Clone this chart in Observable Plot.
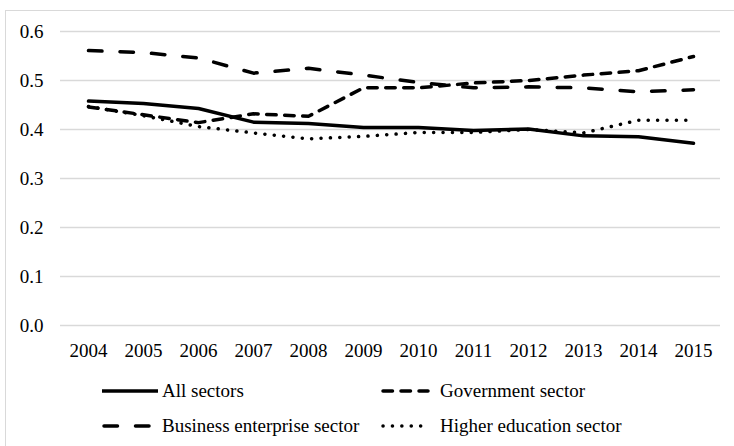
<!DOCTYPE html>
<html>
<head>
<meta charset="utf-8">
<script src="https://cdn.jsdelivr.net/npm/d3@7"></script>
<script src="https://cdn.jsdelivr.net/npm/@observablehq/plot@0.6"></script>
<style>
  html, body { margin: 0; padding: 0; background: #fff; }
  #wrap { position: relative; width: 734px; height: 446px; overflow: hidden; font-size: 19px; }
  #frame { position: absolute; left: 5px; top: 10px; width: 800px; height: 500px; border: 1px solid #d9d9d9; box-sizing: border-box; }
  #chart { position: absolute; left: 0; top: 0; }
  #legend { position: absolute; left: 0; top: 370px; width: 734px; height: 76px; }
  .lgtext { position: absolute; line-height: 19px; white-space: nowrap; font-size: 19px; color: #000; }
</style>
</head>
<body>
<div id="wrap">
  <div id="frame"></div>
  <div id="chart"></div>
  <div id="legend">
    <div class="lgtext" style="left:162px; top:11px; font-family:'Liberation Serif', serif !important">All sectors</div>
    <div class="lgtext" style="left:440px; top:11px; font-family:'Liberation Serif', serif !important">Government sector</div>
    <div class="lgtext" style="left:162px; top:46px; font-family:'Liberation Serif', serif !important">Business enterprise sector</div>
    <div class="lgtext" style="left:440px; top:46px; font-family:'Liberation Serif', serif !important">Higher education sector</div>
  </div>
</div>
<script>
const years = ["2004","2005","2006","2007","2008","2009","2010","2011","2012","2013","2014","2015"];
const allSectors = [0.458, 0.453, 0.443, 0.415, 0.412, 0.404, 0.404, 0.398, 0.401, 0.387, 0.385, 0.372];
const government = [0.446, 0.430, 0.414, 0.432, 0.427, 0.485, 0.485, 0.495, 0.500, 0.511, 0.520, 0.549];
const business   = [0.561, 0.557, 0.546, 0.515, 0.525, 0.511, 0.496, 0.485, 0.487, 0.485, 0.477, 0.481];
const higherEd   = [0.447, 0.428, 0.406, 0.393, 0.381, 0.386, 0.394, 0.394, 0.400, 0.393, 0.419, 0.419];
const yTicks = [0, 0.1, 0.2, 0.3, 0.4, 0.5, 0.6];
const seriesNames = ["All sectors", "Government sector", "Business enterprise sector", "Higher education sector"];

const styles = {
  "All sectors": {dash: null},
  "Government sector": {dash: "9.5,8.5"},
  "Business enterprise sector": {dash: "13.5,18"},
  "Higher education sector": {dash: "0.1,9.3"}
};
const seriesData = {
  "All sectors": allSectors,
  "Government sector": government,
  "Business enterprise sector": business,
  "Higher education sector": higherEd
};
const rows = name => years.map((y, i) => ({year: y, value: seriesData[name][i]}));

const W = 3.5;
const lineMarks = seriesNames.map(name => Plot.line(rows(name), {
  x: "year", y: "value", stroke: "#000", strokeWidth: W,
  strokeDasharray: styles[name].dash || undefined,
  strokeLinecap: "round", strokeLinejoin: "round"
}));

const chart = Plot.plot({
  width: 734,
  height: 368,
  marginTop: 31,
  marginBottom: 43,
  marginLeft: 60,
  marginRight: 14,
  style: {fontSize: "19px", color: "#000", background: "transparent"},
  x: {type: "point", domain: years, padding: 0.5, label: null, tickSize: 0, tickPadding: 18},
  y: {domain: [0, 0.6], ticks: yTicks, tickFormat: d3.format(".1f"), label: null, tickSize: 0, tickPadding: 17},
  marks: [
    Plot.ruleY(yTicks, {stroke: "#d9d9d9", strokeWidth: 1.5}),
    ...lineMarks
  ]
});
chart.style.setProperty("font-family", "'Liberation Serif', serif", "important");
chart.querySelectorAll("text").forEach(t => t.style.setProperty("font-family", "'Liberation Serif', serif", "important"));
document.getElementById("chart").appendChild(chart);

// Legend samples
const legendItems = [
  {name: "All sectors", x: 102, y: 21, len: 56},
  {name: "Government sector", x: 381, y: 21, len: 49},
  {name: "Business enterprise sector", x: 102, y: 56, len: 49},
  {name: "Higher education sector", x: 381, y: 56, len: 49}
];
const lg = d3.select("#legend").insert("svg", ":first-child").attr("width", 734).attr("height", 76)
  .style("position", "absolute").style("left", "0px").style("top", "0px");
legendItems.forEach(it => {
  const s = styles[it.name];
  const ln = lg.append("line").attr("x1", it.x + (s.dash ? 2 : 0)).attr("x2", it.x + it.len - (s.dash ? 2 : 0))
    .attr("y1", it.y).attr("y2", it.y)
    .attr("stroke", "#000").attr("stroke-width", W)
    .attr("stroke-linecap", s.dash ? "round" : "butt");
  if (s.dash) ln.attr("stroke-dasharray", s.dash);
});
</script>
</body>
</html>
